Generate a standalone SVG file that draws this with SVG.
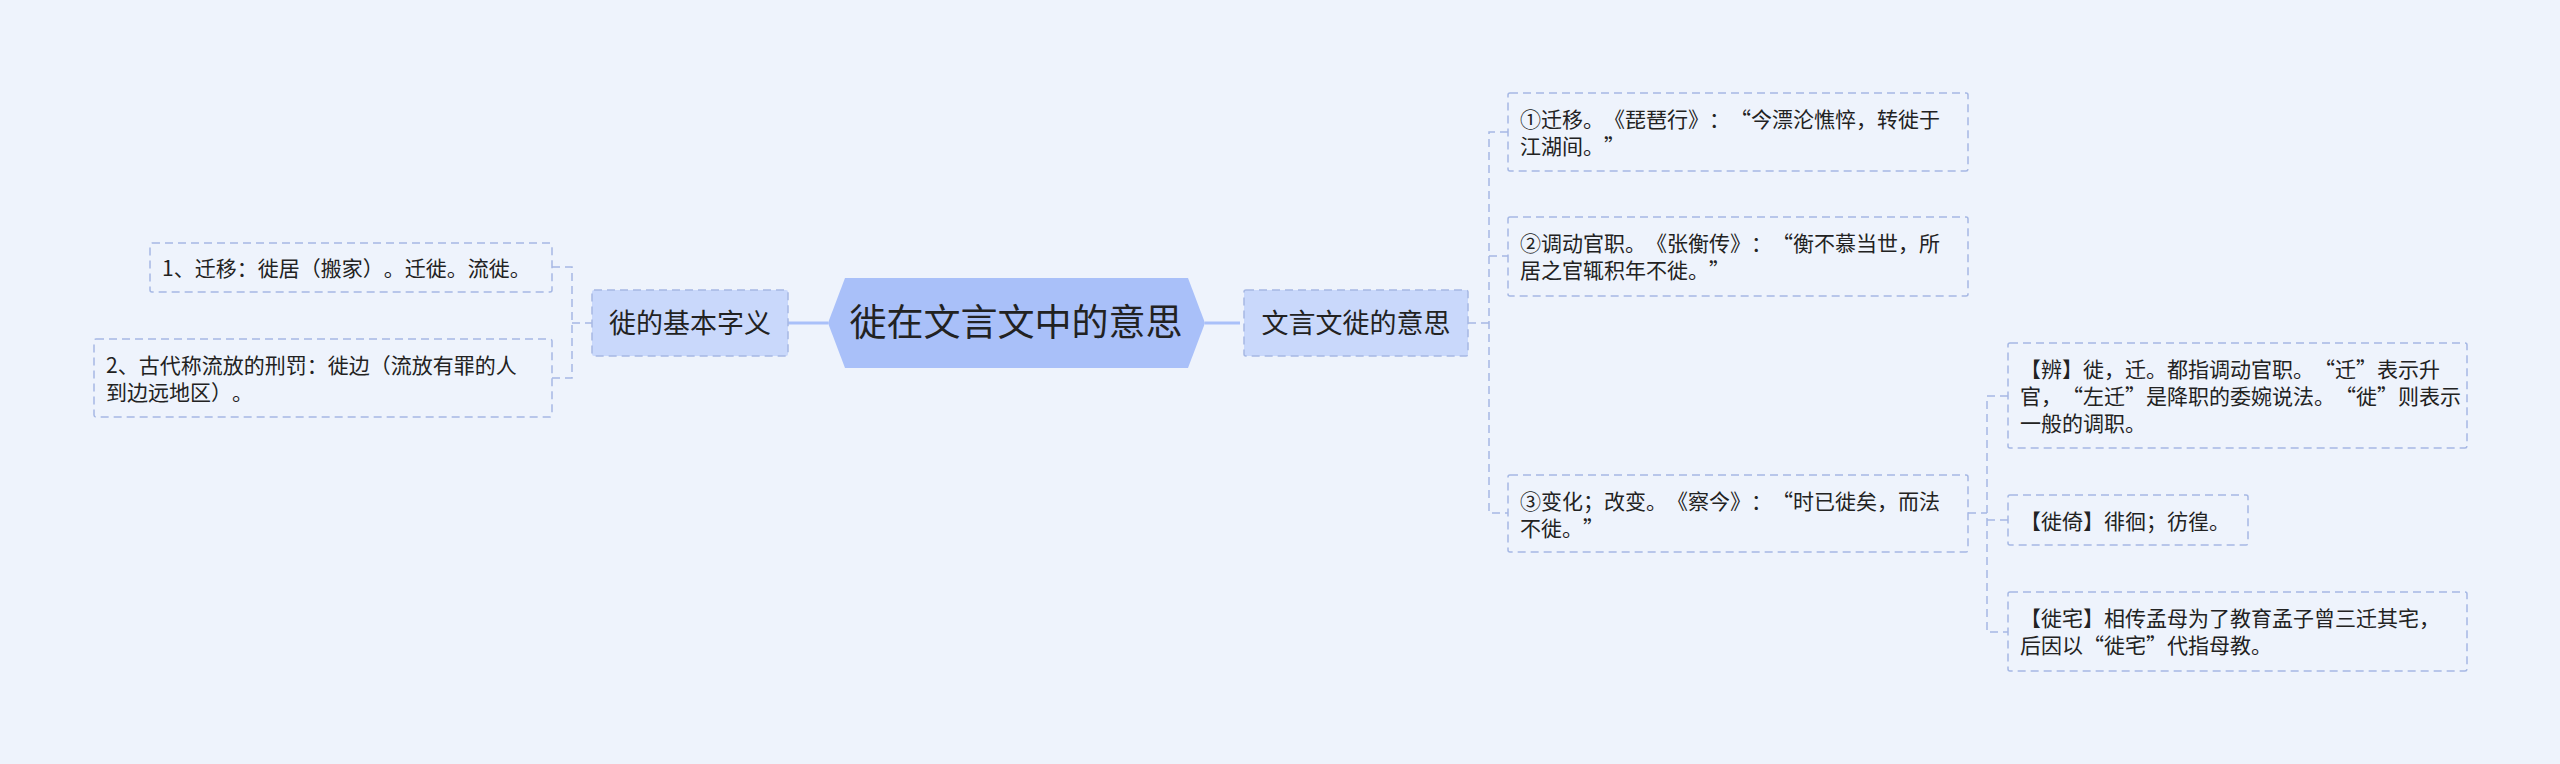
<svg xmlns="http://www.w3.org/2000/svg" width="2560" height="764" viewBox="0 0 2560 764">
<style>
.bg{fill:#eef3fc}
.leaf{fill:none;stroke:#a6b8e4;stroke-width:1.5;stroke-dasharray:8 5}
.l1{fill:#c9d8fb;stroke:#a6b8e4;stroke-width:1.5;stroke-dasharray:8 5}
.root{fill:#a9c0f9}
.t{font-family:"Noto Sans CJK SC","Noto Sans",sans-serif;fill:#222;text-spacing-trim:space-all}
.ts{font-size:21px}
.tm{font-size:27px;text-anchor:middle}
.tl{font-size:37px;text-anchor:middle}
.c{fill:none;stroke:#a6b8e4;stroke-width:1.5;stroke-dasharray:8 5}
.cs{fill:none;stroke:#a9c0f9;stroke-width:3}
</style>
<rect class="bg" x="0" y="0" width="2560" height="764"/>
<g id="connectors">
<path class="cs" d="M788 323 H828"/>
<path class="cs" d="M1205 323 H1240"/>
<path class="c" d="M552 267 H572 V378 H552 M572 323 H592"/>
<path class="c" d="M1468 323 H1489 M1508 132 H1489 V513 H1508 M1489 256 H1508"/>
<path class="c" d="M1968 513 H1987 M2008 396 H1987 V632 H2008 M1987 520 H2008"/>
</g>
<g id="root">
<polygon class="root" points="828,323 845,278 1188,278 1205,323 1188,368 845,368"/>
<text class="t tl" x="1016" y="336">徙在文言文中的意思</text>
</g>
<g id="n-basic">
<rect class="l1" x="592" y="290" width="196" height="66" rx="2"/>
<text class="t tm" x="690" y="333">徙的基本字义</text>
</g>
<g id="n-meaning">
<rect class="l1" x="1244" y="290" width="224" height="66" rx="2"/>
<text class="t tm" x="1356" y="333">文言文徙的意思</text>
</g>
<g id="n-b1">
<rect class="leaf" x="150" y="243" width="402" height="49" rx="2"/>
<text class="t ts" x="162" y="276">1、迁移：徙居（搬家）。迁徙。流徙。</text>
</g>
<g id="n-b2">
<rect class="leaf" x="94" y="339" width="458" height="78" rx="2"/>
<text class="t ts" x="106" y="373">2、古代称流放的刑罚：徙边（流放有罪的人</text>
<text class="t ts" x="106" y="400">到边远地区）。</text>
</g>
<g id="n-m1">
<rect class="leaf" x="1508" y="93" width="460" height="78" rx="2"/>
<text class="t ts" x="1520" y="127">①迁移。《琵琶行》：“今漂沦憔悴，转徙于</text>
<text class="t ts" x="1520" y="154">江湖间。”</text>
</g>
<g id="n-m2">
<rect class="leaf" x="1508" y="217" width="460" height="79" rx="2"/>
<text class="t ts" x="1520" y="251">②调动官职。《张衡传》：“衡不慕当世，所</text>
<text class="t ts" x="1520" y="278">居之官辄积年不徙。”</text>
</g>
<g id="n-m3">
<rect class="leaf" x="1508" y="475" width="460" height="77" rx="2"/>
<text class="t ts" x="1520" y="509">③变化；改变。《察今》：“时已徙矣，而法</text>
<text class="t ts" x="1520" y="536">不徙。”</text>
</g>
<g id="n-bian">
<rect class="leaf" x="2008" y="343" width="459" height="105" rx="2"/>
<text class="t ts" x="2020" y="377">【辨】徙，迁。都指调动官职。“迁”表示升</text>
<text class="t ts" x="2020" y="404">官，“左迁”是降职的委婉说法。“徙”则表示</text>
<text class="t ts" x="2020" y="431">一般的调职。</text>
</g>
<g id="n-xiyi">
<rect class="leaf" x="2008" y="495" width="240" height="50" rx="2"/>
<text class="t ts" x="2020" y="529">【徙倚】徘徊；彷徨。</text>
</g>
<g id="n-xizhai">
<rect class="leaf" x="2008" y="592" width="459" height="79" rx="2"/>
<text class="t ts" x="2020" y="626">【徙宅】相传孟母为了教育孟子曾三迁其宅，</text>
<text class="t ts" x="2020" y="653">后因以“徙宅”代指母教。</text>
</g>
</svg>
